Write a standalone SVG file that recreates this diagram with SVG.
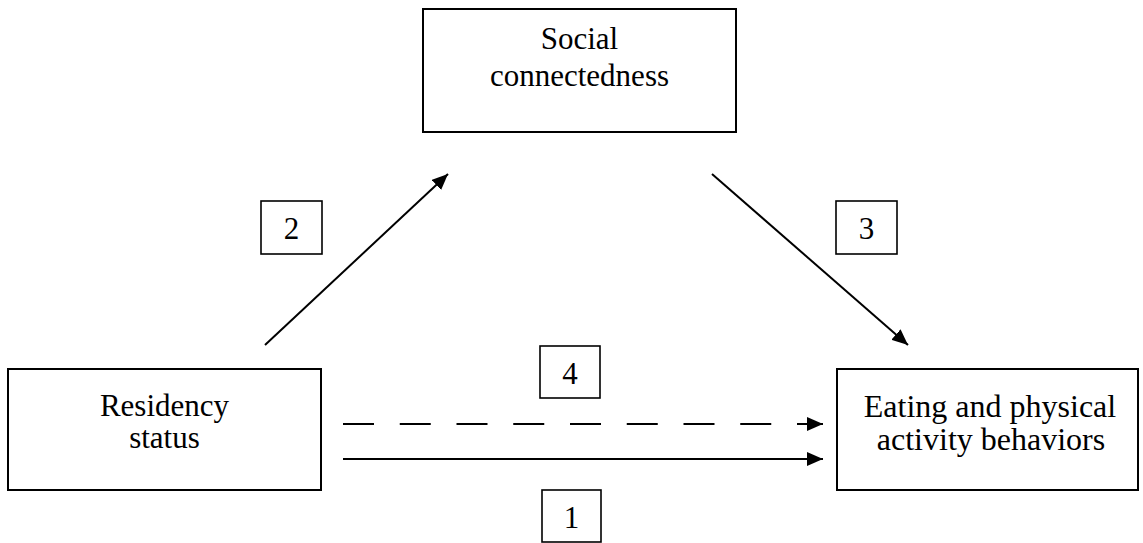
<svg xmlns="http://www.w3.org/2000/svg" width="1143" height="543" viewBox="0 0 1143 543">
<style>
.box{fill:#fff;stroke:#000;stroke-width:2}
.lbl{fill:#fff;stroke:#000;stroke-width:1.6}
.t{font-family:"Liberation Serif","Times New Roman",serif;font-size:31px;fill:#000;text-anchor:middle}
.c{stroke:#000;stroke-width:2;fill:none}
</style>
<defs>
<marker id="ah" markerWidth="16" markerHeight="14" refX="16" refY="7" orient="auto" markerUnits="userSpaceOnUse">
<path d="M0,0 L16,7 L0,14 Z" fill="#000"/>
</marker>
</defs>
<rect width="1143" height="543" fill="#fff"/>
<g id="connectors">
<line class="c" x1="265" y1="345" x2="448" y2="174" marker-end="url(#ah)"/>
<line class="c" x1="712" y1="174" x2="908" y2="345" marker-end="url(#ah)"/>
<line class="c" x1="343" y1="424" x2="823" y2="424" stroke-dasharray="31 25.75" marker-end="url(#ah)"/>
<line class="c" x1="343" y1="459" x2="823" y2="459" marker-end="url(#ah)"/>
</g>
<g id="social">
<rect class="box" x="423" y="9" width="313" height="123"/>
<text class="t" x="579.5" y="49">Social</text>
<text class="t" x="579.5" y="86">connectedness</text>
</g>
<g id="residency">
<rect class="box" x="8" y="369" width="313" height="121"/>
<text class="t" x="164.5" y="416">Residency</text>
<text class="t" x="164.5" y="448">status</text>
</g>
<g id="eating">
<rect class="box" x="837" y="369" width="301" height="121"/>
<text class="t" x="990" y="417" style="font-size:32px">Eating and physical</text>
<text class="t" x="991" y="450" style="font-size:32px">activity behaviors</text>
</g>
<g id="label2">
<rect class="lbl" x="261" y="201" width="61" height="53"/>
<text class="t" x="291.5" y="239">2</text>
</g>
<g id="label3">
<rect class="lbl" x="836" y="201" width="61" height="53"/>
<text class="t" x="866.5" y="239">3</text>
</g>
<g id="label4">
<rect class="lbl" x="540" y="346" width="60" height="52"/>
<text class="t" x="570" y="384">4</text>
</g>
<g id="label1">
<rect class="lbl" x="542" y="490" width="59" height="52"/>
<text class="t" x="571.5" y="528">1</text>
</g>
</svg>
